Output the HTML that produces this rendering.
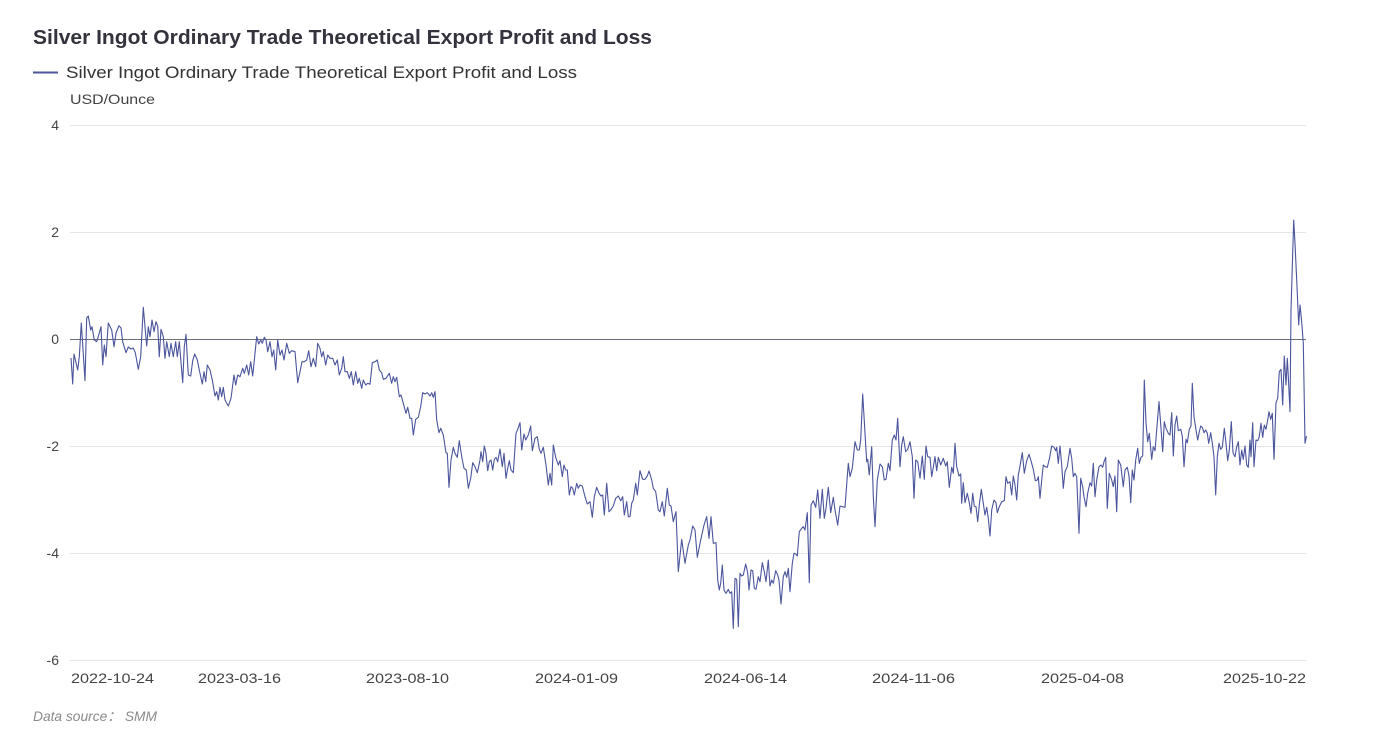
<!DOCTYPE html>
<html>
<head>
<meta charset="utf-8">
<style>
  html, body { margin: 0; padding: 0; background: #ffffff; }
  body { width: 1375px; height: 747px; overflow: hidden; }
  svg { display: block; }
  text { font-family: "Liberation Sans", "Noto Sans CJK SC", sans-serif; }
</style>
</head>
<body>
<svg width="1375" height="747" viewBox="0 0 1375 747" xmlns="http://www.w3.org/2000/svg">
  <rect x="0" y="0" width="1375" height="747" fill="#ffffff"/>

  <!-- Title -->
  <text x="33" y="44" font-size="20" font-weight="bold" fill="#33333d" textLength="619" lengthAdjust="spacingAndGlyphs">Silver Ingot Ordinary Trade Theoretical Export Profit and Loss</text>

  <!-- Legend -->
  <line x1="33" y1="72.5" x2="58" y2="72.5" stroke="#4a559c" stroke-width="2"/>
  <text x="66" y="78" font-size="17" fill="#333333" textLength="511" lengthAdjust="spacingAndGlyphs">Silver Ingot Ordinary Trade Theoretical Export Profit and Loss</text>

  <!-- Unit -->
  <text x="70" y="104" font-size="14" fill="#444444" textLength="85" lengthAdjust="spacingAndGlyphs">USD/Ounce</text>

  <!-- Gridlines -->
  <g stroke="#e6e6e6" stroke-width="1">
    <line x1="70" y1="125.5" x2="1306" y2="125.5"/>
    <line x1="70" y1="232.5" x2="1306" y2="232.5"/>
    <line x1="70" y1="446.5" x2="1306" y2="446.5"/>
    <line x1="70" y1="553.5" x2="1306" y2="553.5"/>
    <line x1="70" y1="660.5" x2="1306" y2="660.5"/>
  </g>
  <line x1="70" y1="339.5" x2="1306" y2="339.5" stroke="#6e7079" stroke-width="1"/>

  <!-- Y labels -->
  <g font-size="14" fill="#444444" text-anchor="end">
    <text x="59" y="130">4</text>
    <text x="59" y="237">2</text>
    <text x="59" y="344">0</text>
    <text x="59" y="451">-2</text>
    <text x="59" y="558">-4</text>
    <text x="59" y="665">-6</text>
  </g>

  <!-- X labels -->
  <g font-size="14" fill="#444444">
    <text x="71" y="683" textLength="83" lengthAdjust="spacingAndGlyphs">2022-10-24</text>
    <text x="198" y="683" textLength="83" lengthAdjust="spacingAndGlyphs">2023-03-16</text>
    <text x="366" y="683" textLength="83" lengthAdjust="spacingAndGlyphs">2023-08-10</text>
    <text x="535" y="683" textLength="83" lengthAdjust="spacingAndGlyphs">2024-01-09</text>
    <text x="704" y="683" textLength="83" lengthAdjust="spacingAndGlyphs">2024-06-14</text>
    <text x="872" y="683" textLength="83" lengthAdjust="spacingAndGlyphs">2024-11-06</text>
    <text x="1041" y="683" textLength="83" lengthAdjust="spacingAndGlyphs">2025-04-08</text>
    <text x="1223" y="683" textLength="83" lengthAdjust="spacingAndGlyphs">2025-10-22</text>
  </g>

  <!-- Series -->
  <polyline fill="none" stroke="#4a559c" stroke-width="1.1" stroke-linejoin="round" points="
71,358 72.7,384 74,354 77.7,370 79.3,356.7 81.3,323 85,380.7 86.7,318 88.3,316 90.7,330 92,326.7 94.3,340 96.7,341.7 99.3,333 101,326.7 102.7,365 104.3,345 106,356.7 108.3,323 111.7,330 114,346.7 116,333 119,325.7 121,328 122.7,341.7 126,352.7 128.3,347 131,349 133.3,348 135.3,352.7 138.3,369.3 140.7,356.7 143.3,307.3 146.7,346 148.3,326.7 150,336.7 152,320 154,331.7 156,321.7 157.7,326 159.3,356.7 161,329.3 163.3,336.7 165,358.3 166.7,341.7 169.3,356.7 171,343.3 173.3,356.7 175.7,341.7 177.3,356.7 179.3,341.7 182.7,382.7 184.3,346.7 186,334.3 188.3,375 190.7,376 192.7,360.7 194.7,354 197.3,360 200,373.3 202.3,384 204,371.7 205.7,381.7 207.3,365 210,370 212.3,380 215,396 216.7,391.7 218.3,400 220,387.3 221.7,396.7 223.3,387.3 225,400 228.3,406 231,398.3 234,375 235.7,385 237.7,375 240,376.7 242.7,368.3 244.3,373.3 246.7,365 248.7,375 250.7,361.7 252.7,376 255,353.3 256.7,336.7 258.7,344 260.7,340 262.3,343.3 264.3,337.3 266,340 267.7,351.7 270,341.7 272,356.7 273.7,350 275.7,370 277.7,340 280,355 282,350 284,360 286.7,343.3 289.3,353.3 291.7,350.7 295,351.7 297.7,382.7 300,371.7 302,361.7 304.3,361.7 306.7,360 308.7,350.7 311,366.7 313.3,358.3 315.7,366.7 317.7,343.3 320,348.3 321.7,356.7 323.3,351.7 325.7,365 327.7,355 330,358.3 332.7,358.3 335,365 337.3,360 339.3,375 341.7,368.3 343.3,356.7 345,371.7 347.3,371.7 349.3,378.3 351.3,371.7 353.3,385 355.7,371.7 357.7,383.3 359.3,378.3 361.7,388.3 363.3,380 365.7,385 367.7,383.3 370,384.3 372.3,362.7 375,361.7 377.3,360 379.3,370 381.7,372.7
383.3,379.3 386,378.3 389.3,373.3 391.7,383.3 393.3,376.7 395,381.7 396.7,377.3 399.3,396.7 401,395 403.3,403.3 406,413.3 407.7,407.3 410,418.3 411.7,418.3 413.3,435 415.7,419.3 418.3,417.3 420.7,406.7 422.7,392.7 425,394 427.3,392.7 430,396 431.7,392.7 433.3,397.3 435,391.7 436.7,420 439,432.7 440.7,428.3 443.3,435 446,452.7 447.3,453.3 449,487.3 451,460 453.3,447.3 455,453.3 457.3,457.3 459.3,440.7 461.7,456.7 464,468.3 466.3,470 468.3,488.3 470.7,478.3 472.7,462.7 475,466.7 477.3,472.7 480,460 481,451.7 482.7,461.7 484.3,446 486,453.3 487.7,470.7 489.3,461.7 491,460 492.7,470 494.3,459.3 496,457.3 497.7,461.7 500,449 502.3,466.7 504,453.3 506,478.3 507.7,468.3 509.3,460.7 511,470 513.3,472.7 516,433.3 517.7,429.3 520,422.7 521.7,450 524,434 525.7,440 528.3,435 530.7,426 532.3,450.7 535,438.3 537.3,436.7 539.3,449.3 541,453.3 543.3,447.3 546,465 548.3,485 550,473.3 551.7,485 553.3,445 555.7,457.3 558.3,465 560,460.7 562.3,476.7 564,465 565.7,470 567.3,470 569.3,495 571,486.7 572.7,488.3 574.3,495 576.7,483.3 578.3,488.3 580,485 582.3,486 585,496.7 587.3,504 590,501.7 592.3,517.3 594.3,496.7 596.7,487.3 599,493.3 601,496 602.7,495 604.3,515 606.7,483.3 609,511.7 610.7,510 613.3,506 615.7,498.3 618.3,496 620.7,500.7 622.7,496.7 624.3,515 626.7,501.7 628.3,516.7 630,516.7 631.7,503.3 633.3,500 635.7,483.3 637.3,495 640,470.7 642.7,479.3 645,479.3 647.3,476 649,471 651.7,480 653.3,488.3 655.7,491.7 658.3,510 660,511.7 662.3,501.7 664.3,516 667.3,488.3 669.3,505 671,506 673.3,521.7 676,511.7 678.3,571.7 681.7,539.3 685,563.3 688.3,545 690,540 692.7,526 695,530 697.3,557.3 700,543.3
704,525 706.7,516.7 709,538.3 711,516.7 713.3,543.3 716,542.7 717.7,580 719.3,590 720.7,583.3 722.3,565 724,590 726,593.3 728.3,589.3 730,593.3 731.7,591.7 733.3,628.3 735,578.3 736.7,579.3 738.3,626.7 740,573.3 741.7,576 743.3,575 745.7,564 747.7,572.7 749,590 751,570 752.7,570.7 754.3,588.3 756,589.3 758.3,576.7 760,581.7 762.3,562.7 764.3,571.7 766,581.7 768.3,560 770,586 771.7,580 773.3,583.3 775.7,570.7 777.7,575 779,580 781,604 783.3,576.7 785,571.7 786.7,577.3 788.3,568.3 790,591.7 792.3,563.3 794,553.3 795.7,554 797.3,556 799.3,531.7 801.7,528.3 803.3,526.7 805,530 807.3,512.7 809.3,582.7 811,505 813.3,500.7 815.7,507.3 817.7,490 820,518.3 822.3,489.3 824.3,518.3 826,508.3 828.3,487.3 830.7,512.7 833.3,497.3 835,510 837.7,525 840,506 842.3,506.7 845,507.3 848.3,463.3 850,476.7 852.3,468.3 855,441.7 857.3,450 859.3,450 860.7,440 862.7,394 865,433.3 866.7,461.7 867.7,459.3 869.3,475 871.7,446.7 873.3,496.7 875,526.7 877.3,480 880,464 882.3,466.7 884.3,480 886,479.3 888.3,463.3 890,470.7 892.3,440 894.3,435 896,440 897.7,418.3 900,466.7 901.7,445 903.3,436.7 905.7,451.7 907.7,449.3 910,441.7 912.3,456.7 914,498.3 915.7,460 917.7,461.7 920,478.3 922.3,456 924.3,479.3 926,446 927.7,456.7 930,457.3 931.7,476.7 933.3,467.3 935,456.7 936.7,470.7 938.3,457.3 940.7,465 943.3,458.3 945.7,466 947.3,461.7 949.3,487.3 951.7,467.3 953.3,473.3 955,443.3 956.7,466.7 959,476
960.7,474 961.7,503.3 963.3,482.7 965,502.7 967.3,493.3 969.3,502.7 971,513.3 972.7,493.3 974.3,506 976,506.7 977.7,521.7 979.3,505 981.3,489.3 983.3,503.3 985,515 986.7,507.3 988.3,518.3 990,536 991.7,510 994,500 996,502.7 997.3,512.7 999.3,506.7 1001.7,501.7 1004.3,500.7 1006,476.7 1007.7,483.3 1010,481.7 1011.7,495 1013.3,476 1015,485 1016.7,500 1018.3,475 1020,466 1022.3,452.7 1024.3,473.3 1026.7,460.7 1029,454.3 1031,460.7 1033.3,469.3 1035.3,480.7 1037.3,480 1038.3,476.7 1040,498.3 1041.7,480 1043.3,465 1045,466.7 1047.3,467.3 1049.3,459.3 1051.7,446 1054,447.3 1055.7,450.7 1056.7,447.3 1058.3,463.3 1060,446 1061.7,465 1063.3,488.3 1065,471.7 1067.3,466.7 1070,448.3 1071.7,458.3 1073.3,476.7 1075,473.3 1076.7,476.7 1079,533.3 1080.7,478.3 1082.7,486.7 1084,496.7 1086,506.7 1087.7,493.3 1090,482.7 1091.7,486 1093.3,463.3 1095,496.7 1096.7,480 1099,466.7 1101,465 1102.7,467.3 1104,461.7 1105.7,457.3 1107.3,508.3 1109.3,473.3 1111.7,480 1113.3,486.7 1115,476 1116.7,511.7 1118.3,460 1120.7,465 1123.3,486.7 1125,470 1127.3,467.3 1129,476 1130.7,502.7 1132.3,470 1134,480 1135.7,460 1137.7,448.3 1139.3,463.3 1141,457.3 1142.7,456 1144.3,380 1146,423.3 1147.7,441.7 1149.3,433.3 1151.7,459.3 1153.3,446.7 1155,450.7 1156.7,430 1159,401.7 1161,428.3 1162.7,451.7 1164.3,421.7 1166,428.3 1168.3,433.3 1170,435 1171.7,412.7 1173.3,456 1175,425 1176.7,416 1178.3,430.7
1180.7,429.3 1182.3,436 1184,466.7 1186,439.3 1187.3,442.7 1189.3,429.3 1191,426 1192.3,383.3 1194,416.7 1196,430 1197.7,440 1199.3,431.7 1200.7,426 1202.3,427.3 1204,432.7 1205.7,430 1207.3,433.3 1208.7,443.3 1210.7,432.7 1212.3,443.3 1214,456.7 1215.7,495 1217.3,456.7 1219,443.3 1220.7,449.3 1222.3,447.3 1224.3,428.3 1226,443.3 1227.7,460.7 1229.3,450 1231.3,421.7 1233,452.7 1235,456.7 1236.7,446.7 1238.3,441.7 1240,465 1241.7,450 1243.3,459.3 1245,446 1246.7,465 1248.3,467.3 1250,440 1251,456.7 1252.7,422.7 1254,466.7 1256,440 1257.7,440.7 1259.3,436.7 1261,423.3 1262.7,437.3 1264.3,425 1266,429.3 1267.7,420 1269,411.7 1270.7,419.3 1272.3,413.3 1274,459.3 1276,402.7 1277.7,398.3 1279.3,371.7 1281,369.3 1282.7,405 1284.3,356 1286,385 1287.3,358.3 1288.3,376.7 1290,411.7 1291,310 1292.3,266.7 1293.7,220 1295,243.3 1296.7,280 1298.7,325 1300,305 1301.7,321.7 1303.3,343.3 1305,443.3 1306.5,436
"/>

  <!-- Data source -->
  <text x="33" y="721" font-size="14" font-style="italic" fill="#8a8a8a" textLength="124" lengthAdjust="spacingAndGlyphs">Data source： SMM</text>
</svg>
</body>
</html>
